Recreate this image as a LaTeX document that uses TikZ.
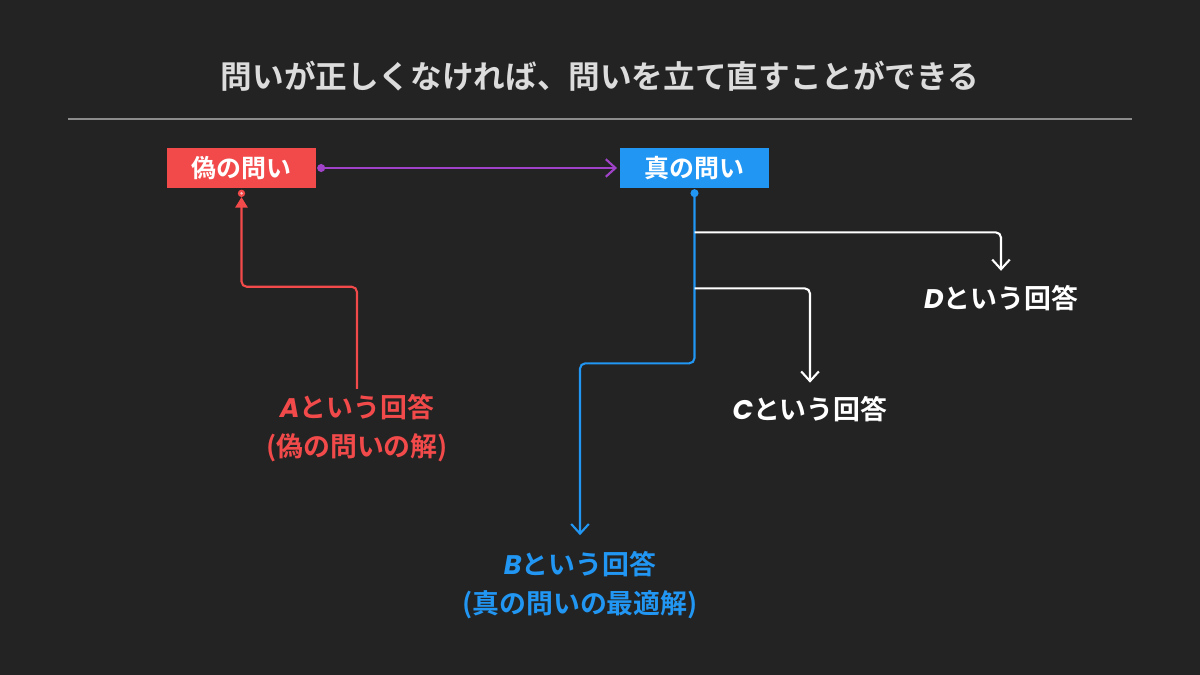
\documentclass[tikz,border=0pt]{standalone}
\usepackage{fontspec}
\setmainfont{Noto Sans CJK JP}[BoldFont={Noto Sans CJK JP Bold}]
\newfontfamily\latinfont{Poppins}
\usetikzlibrary{arrows.meta}
\usetikzlibrary{calc}
\usetikzlibrary{positioning}
\definecolor{bgcol}{HTML}{232323}
\definecolor{titlecol}{HTML}{DCDCDC}
\definecolor{rulecol}{HTML}{8C8C8C}
\definecolor{fakecol}{HTML}{F24A4A}
\definecolor{truecol}{HTML}{2196F3}
\definecolor{linkcol}{HTML}{A043C8}
\newcommand{\ltr}[1]{{\latinfont\bfseries\itshape #1}} % latin letters, bold italic

\begin{document}
\begin{tikzpicture}[x=0.02cm, y=-0.02cm,
	question/.style={minimum width=2.98cm, minimum height=0.8cm, inner sep=0pt, text=white, font=\bfseries\fontsize{14.2}{16}\selectfont},
	answer/.style={align=center, inner sep=3pt, font=\bfseries\fontsize{15.3}{22}\selectfont},
	conn/.style={line width=1.2pt, rounded corners=3pt},
	opentip/.tip={Straight Barb[length=5.5pt, width=10pt, line width=1.2pt]}]
	% background, 1200 x 675
	\fill[bgcol] (0,0) rectangle (1200,675);
	
	% title and rule
	\node[text=titlecol, font=\bfseries\fontsize{18}{20}\selectfont] (title) at (600,76) {問いが正しくなければ、問いを立て直すことができる};
	\draw[rulecol, line width=0.6pt] (68,119) -- (1132,119);
	
	% the two questions
	\node[question, fill=fakecol] (fake) at (241.5,168) {偽の問い};
	\node[question, fill=truecol] (true) at (694.5,168) {真の問い};
	
	% answers
	\node[answer, text=fakecol] (ansA) at (357,428) {\ltr{A}という回答\\(偽の問いの解)};
	\node[answer, text=truecol] (ansB) at (580,585) {\ltr{B}という回答\\(真の問いの最適解)};
	\node[answer, text=white] (ansC) at (810,409) {\ltr{C}という回答};
	\node[answer, text=white] (ansD) at (1001,298) {\ltr{D}という回答};
	
	% fake -> true
	\draw[conn, linkcol, {Circle[length=4.5pt]}-{opentip}, shorten <=0.5pt, shorten >=1.5pt] (fake.east) -- (true.west);
	
	% A -> fake
	\draw[conn, fakecol, -{Triangle[length=6pt, width=7pt]}, shorten >=5pt] (ansA.north) -- ++(0,-102) -| (fake.south);
	\fill[fakecol] ($(fake.south)+(0,5)$) circle (2.1pt);
	\fill[fakecol!40!white] ($(fake.south)+(0,5)$) circle (0.8pt);
	
	% true -> B, C, D
	\draw[conn, truecol, {Circle[length=4.5pt]}-{opentip}, shorten <=0.5pt, shorten >=6pt] (true.south) -- ++(0,175) -| (ansB.north);
	\draw[conn, white, -{opentip}, shorten >=5pt] ($(true.south)+(0,44)$) -| (ansD.north);
	\draw[conn, white, -{opentip}, shorten >=4.5pt] ($(true.south)+(0,100)$) -| (ansC.north);
\end{tikzpicture}
\end{document}
